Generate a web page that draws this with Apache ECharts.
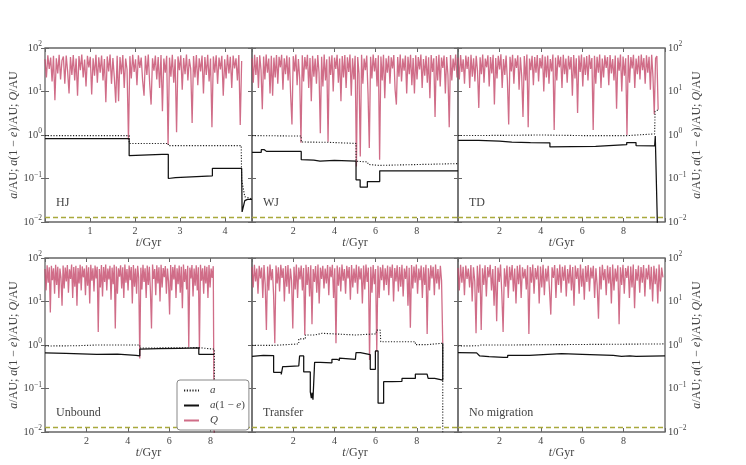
<!DOCTYPE html>
<html>
<head>
<meta charset="utf-8">
<script src="https://cdn.jsdelivr.net/npm/echarts@6/dist/echarts.min.js"></script>
<style>
html, body { margin: 0; padding: 0; background: #fff; }
#chart { width: 746px; height: 465px; }
</style>
</head>
<body>
<div id="chart"></div>
<script>
// panel order: top row HJ, WJ, TD; bottom row Unbound, Transfer, No migration
const panelNames = ['HJ', 'WJ', 'TD', 'Unbound', 'Transfer', 'No migration'];
const xMaxes = [4.6, 10, 10, 10, 10, 10];
const xIntervals = [1, 2, 2, 2, 2, 2];
const rocheLimit = 0.0127;

// Q (pericentre of the outer body) sampled evenly from t=0 to qEnd
const qEnd = [4.37, 9.95, 9.67, 8.18, 9.26, 9.9];
const qHJ = [
  55,21,68,33,60,17,66,6.3,58,26,70,19,52,64,15,67,29,9,62,24,
  69,18,57,8,65,31,71,21,54,13,66,36,63,8.5,58,23,70,16,61,27,
  67,18,56,5.7,64,29,71,15,59,21,5.5,66,6,62,25,69,12,57,32,0.78,
  65,20,70,28,55,14,68,35,60,18,8,66,24,71,15,5,58,30,67,19,
  62,12,69,3.5,57,27,66,0.6,60,22,70,16,55,1.15,64,31,68,11,59,25,
  71,18,56,33,1.9,65,21,69,14,58,29,67,9,62,24,70,17,57,1.5,64,
  27,68,15,60,32,66,8,55,20,70,26,63,12,67,34,58,18,69,1.7,50
];
const qWJ = [
  58,16,70,24,62,12,68,31,3.9,64,19,71,27,57,9,66,8,60,21,69,
  15,63,36,70,11,58,25,67,18,61,8,1.74,65,29,71,14,56,20,0.66,68,
  17,62,32,70,12,59,6,66,22,57,15,69,27,1.1,63,13,71,18,55,0.7,
  64,24,68,10,60,33,70,16,57,6,65,21,69,12,61,28,71,8,58,19,
  66,0.19,62,26,0.32,70,15,57,31,67,9,0.5,63,20,71,29,59,13,68,0.27,
  64,18,70,7,58,27,66,15,61,34,69,11,5,62,22,71,17,57,30,67,
  9,63,25,70,14,59,9,68,19,62,32,71,12,56,23,66,16,61,7,69,
  28,58,2.6,65,18,70,13,60,35,67,9,62,24,1.5,69,18,57,30,71,21
];
const qTD = [
  60,19,69,28,55,15,67,33,63,12,70,22,58,17,66,30,4.2,61,25,71,
  16,57,36,68,13,62,26,70,5,59,20,66,32,72,12,56,24,67,18,1.74,
  63,29,70,15,58,35,68,11,61,23,2.6,65,18,71,1.5,57,31,66,14,62,
  27,69,17,59,34,70,10,64,21,67,15,56,29,71,1.3,60,18,68,36,63,
  12,70,25,57,16,66,32,62,8,69,20,58,3.2,67,28,71,13,61,24,65,
  18,70,33,59,1.3,66,15,63,27,71,12,57,21,68,35,62,14,69,26,56,
  18,67,4,60,30,71,10,64,23,58,1.0,69,16,62,34,70,12,57,25,66,
  19,71,31,59,15,68,27,63,11,70,22,3,58,65,3.8
];
const qUB = [
  56,18,68,27,61,5.6,66,31,58,15,70,24,63,12,57,35,8,67,20,60,
  29,69,16,55,33,71,12,62,22,66,8,59,26,70,18,64,36,57,14,68,
  23,61,9,70,30,58,17,67,34,63,2.0,56,21,69,13,62,28,71,18,57,
  32,66,11,60,25,70,2.4,64,15,58,37,68,20,61,12,71,27,56,18,67,
  31,62,9,69,22,57,15,66,35,0.49,60,19,70,28,58,12,67,24,63,17,
  2.4,71,33,56,14,68,26,61,10,70,21,59,36,65,15,57,29,5,69,18,
  62,32,70,12,58,25,67,16,63,7,71,28,56,19,66,0.9,60,34,69,13,
  57,23,68,18,61,0.8,70,30,58,15,66,26,63,12,69,21,57,35,65,0.001
];
const qTR = [
  62,21,70,29,57,15,66,34,60,12,69,25,2.2,64,18,71,31,56,14,1.1,
  67,26,61,17,70,35,58,10,65,22,69,15,57,30,2.4,63,19,71,12,60,
  32,67,18,59,1.7,70,24,62,13,68,3,56,28,65,16,71,9,60,33,66,
  20,57,26,69,14,63,36,70,12,58,1.1,67,23,61,17,71,30,56,15,66,
  34,62,11,69,21,57,27,70,15,64,32,58,9,67,19,71,28,60,0.45,63,
  16,69,25,56,0.7,66,12,61,31,70,18,58,24,67,14,63,35,71,10,59,
  29,68,17,62,22,70,13,57,33,66,8,60,2.5,69,20,64,27,71,15,57,
  31,67,12,61,24,70,1.8,58,18,68,34,63,14,71,26,56,19,66,30,1.1
];
const qNM = [
  59,18,70,27,63,14,67,33,57,21,69,10,61,29,1.86,66,16,71,2.2,58,
  24,68,13,62,36,70,18,56,8,65,3.5,60,28,71,15,2,58,22,67,12,
  63,31,69,17,57,9,66,25,70,12,61,34,56,19,68,1.8,62,27,71,15,
  59,32,67,9,64,21,70,14,57,29,66,18,5,61,35,69,12,58,24,71,
  16,63,30,68,13,56,26,70,18,62,8,67,33,59,15,71,22,57,11,65,
  28,69,17,60,34,66,12,58,23,4,63,19,70,31,56,14,67,26,62,9,
  71,18,57,29,68,3,61,24,70,15,59,35,66,12,64,21,71,7,56,30,
  67,16,62,27,69,13,58,32,70,19,63,10,66,25,57,9,71,17,60,36
];

// semi-major axis a, [t/Gyr, a/AU]
const aHJ = [[0,0.97],[1.87,0.97],[1.87,0.64],[2.74,0.64],[2.74,0.57],[4.36,0.57],[4.37,0.093],[4.44,0.038],[4.6,0.034]];
const aWJ = [[0,0.97],[1.9,0.95],[2.39,0.95],[2.39,0.69],[3.67,0.68],[3.67,0.64],[5.05,0.64],[5.05,0.25],[5.6,0.24],[5.65,0.21],[6.15,0.2],[6.2,0.22],[10,0.22]];
const aTD = [[0,0.97],[2,0.98],[4,1.0],[6,0.97],[8.2,0.97],[8.2,1.06],[9.5,1.06],[9.52,3.5],[9.67,3.8]];
const aUB = [[0,0.95],[1.5,0.96],[2.5,1.0],[4.58,1.0],[4.58,0.85],[7.43,0.87],[7.43,0.8],[8.18,0.8],[8.18,0.001]];
const aTR = [[0,0.98],[1.05,0.98],[1.05,1.06],[2.27,1.06],[2.27,1.38],[2.59,1.38],[2.59,1.7],[3.07,1.7],[3.07,1.86],[3.4,1.86],[3.4,1.7],[5.02,1.7],[5.02,1.8],[6.02,1.8],[6.05,2.2],[6.22,2.2],[6.25,1.19],[7.93,1.19],[7.93,1.02],[8.5,1.02],[8.5,1.1],[9.26,1.1],[9.26,0.001]];
const aNM = [[0,0.95],[1.0,0.96],[1.1,1.0],[2.35,1.0],[2.4,1.07],[10,1.06]];

// pericentre a(1-e), [t/Gyr, AU]
const eHJ = [[0,0.83],[1.87,0.83],[1.87,0.334],[2.6,0.36],[2.74,0.36],[2.74,0.1],[2.9,0.105],[3.72,0.115],[3.72,0.172],[4.37,0.172],[4.38,0.017],[4.44,0.031],[4.5,0.033],[4.6,0.033]];
const eWJ = [[0,0.4],[0.45,0.4],[0.45,0.46],[0.6,0.46],[0.6,0.42],[0.7,0.42],[0.7,0.45],[0.75,0.45],[0.75,0.42],[2.39,0.42],[2.39,0.27],[3.0,0.265],[3.3,0.25],[4.0,0.26],[5.05,0.25],[5.05,0.093],[5.25,0.093],[5.25,0.063],[5.6,0.063],[5.6,0.085],[6.2,0.085],[6.2,0.15],[10,0.15]];
const eTD = [[0,0.75],[1,0.75],[2,0.72],[2.6,0.69],[3.5,0.67],[4.44,0.66],[4.44,0.53],[5.5,0.54],[6.65,0.55],[6.65,0.6],[8.15,0.6],[8.15,0.67],[8.6,0.67],[8.6,0.57],[9.5,0.56],[9.53,0.95],[9.62,0.95],[9.68,0.001]];
const eUB = [[0,0.66],[1,0.64],[2.5,0.61],[3.5,0.62],[4.4,0.58],[4.58,0.56],[4.58,0.8],[5.5,0.82],[6.5,0.84],[7.43,0.86],[7.43,0.61],[8.18,0.61]];
const eTR = [[0,0.55],[0.55,0.58],[1.05,0.57],[1.05,0.236],[1.42,0.236],[1.42,0.21],[1.49,0.21],[1.49,0.32],[1.62,0.32],[1.62,0.33],[2.27,0.33],[2.31,0.56],[2.51,0.56],[2.51,0.24],[2.83,0.24],[2.83,0.084],[2.88,0.06],[2.92,0.08],[2.96,0.055],[3.04,0.06],[3.04,0.4],[3.32,0.4],[3.32,0.39],[3.88,0.39],[3.88,0.47],[4.13,0.47],[4.13,0.44],[4.24,0.44],[4.24,0.5],[4.3,0.47],[5.02,0.47],[5.05,0.67],[5.26,0.67],[5.26,0.63],[5.74,0.6],[5.74,0.276],[5.99,0.276],[5.99,0.73],[6.12,0.73],[6.12,0.046],[6.39,0.046],[6.39,0.143],[6.8,0.143],[6.8,0.146],[7.28,0.146],[7.28,0.17],[7.93,0.17],[7.93,0.215],[8.5,0.215],[8.5,0.2],[8.55,0.17],[8.87,0.17],[8.87,0.155],[9.26,0.155],[9.26,1.1]];
const eNM = [[0,0.67],[0.9,0.66],[1.05,0.56],[1.5,0.54],[2.2,0.52],[2.4,0.52],[2.4,0.58],[3.45,0.58],[3.5,0.64],[5,0.63],[6,0.61],[7.5,0.58],[7.9,0.55],[8.3,0.56],[8.6,0.55],[10,0.56]];

const qData = [qHJ, qWJ, qTD, qUB, qTR, qNM];
const aData = [aHJ, aWJ, aTD, aUB, aTR, aNM];
const eData = [eHJ, eWJ, eTD, eUB, eTR, eNM];

const legendNames = ['a', 'a(1\u2212e)', 'Q'];
const legendLabels = {'a': '{i|a}', 'a(1\u2212e)': '{i|a}(1 \u2212 {i|e})', 'Q': '{i|Q}'};

// layout
const colLeft = [45, 252, 458], colWidth = [207, 206, 207];
const rowTop = [48, 258], rowHeight = 174;
const font = 'Liberation Serif';
const axisGray = '#666';
const textGray = '#444';
const pink = '#c4486a';

const italic = {fontStyle: 'italic', fontFamily: font, fontSize: 12, color: textGray};

function supLabel(v) {
    const p = Math.round(Math.log10(v));
    return '{b|10}{s|' + (p < 0 ? '\u2212' + (-p) : p) + '}';
}

function qPoints(vals, tEnd) {
    const dt = tEnd / (vals.length - 1);
    return vals.map((v, i) => [i * dt, v]);
}

const grid = [], xAxis = [], yAxis = [], series = [], graphic = [];

panelNames.forEach((name, k) => {
    const col = k % 3, row = Math.floor(k / 3);
    grid.push({
        left: colLeft[col], top: rowTop[row], width: colWidth[col], height: rowHeight,
        show: true, borderColor: axisGray, borderWidth: 1.3, backgroundColor: 'transparent'
    });

    const tick = {inside: true, length: 4, lineStyle: {color: axisGray, width: 1}};
    const xBase = {
        type: 'value', gridIndex: k, min: 0, max: xMaxes[k], interval: xIntervals[k],
        splitLine: {show: false}, axisLine: {show: false}, axisTick: tick
    };
    xAxis.push(Object.assign({}, xBase, {
        position: 'bottom',
        name: '{i|t}/Gyr', nameLocation: 'middle', nameGap: 13,
        nameTextStyle: {fontFamily: font, fontSize: 12, color: textGray, rich: {i: italic}},
        axisLabel: {
            margin: 4, fontFamily: font, fontSize: 10, color: textGray,
            formatter: v => (v > 0 && v < xMaxes[k] - 1e-6) ? String(v) : ''
        }
    }));
    xAxis.push(Object.assign({}, xBase, {position: 'top', axisLabel: {show: false}}));

    const yBase = {
        type: 'log', logBase: 10, gridIndex: k, min: 0.01, max: 100,
        splitLine: {show: false}, axisLine: {show: false}, axisTick: tick
    };
    const showLabels = col !== 1;
    yAxis.push(Object.assign({}, yBase, {
        position: col === 2 ? 'right' : 'left',
        name: showLabels ? '{i|a}/AU; {i|a}(1 \u2212 {i|e})/AU; {i|Q}/AU' : '',
        nameLocation: 'middle', nameRotate: 90, nameGap: col === 0 ? 20 : 15,
        nameTextStyle: {fontFamily: font, fontSize: 12, color: textGray, rich: {i: italic}},
        axisLabel: {
            show: showLabels, margin: 3, formatter: supLabel,
            rich: {
                b: {fontFamily: font, fontSize: 10.5, color: textGray},
                s: {fontFamily: font, fontSize: 7.5, color: textGray, padding: [0, 0, 7, 0]}
            }
        }
    }));
    yAxis.push(Object.assign({}, yBase, {position: col === 2 ? 'left' : 'right', axisLabel: {show: false}}));

    // dashed reference level across the whole panel
    series.push({
        type: 'line', name: 'limit', xAxisIndex: 2 * k, yAxisIndex: 2 * k,
        data: [[0, rocheLimit], [xMaxes[k], rocheLimit]], symbol: 'none', silent: true,
        lineStyle: {color: '#a9a93c', type: [5, 3], width: 1.3},
        z: 1
    });
    series.push({
        type: 'line', name: 'Q', xAxisIndex: 2 * k, yAxisIndex: 2 * k,
        data: qPoints(qData[k], qEnd[k]), symbol: 'none', showSymbol: false,
        lineStyle: {color: pink, width: 1.3, opacity: 0.8}, itemStyle: {color: pink},
        z: 2
    });
    series.push({
        type: 'line', name: 'a', xAxisIndex: 2 * k, yAxisIndex: 2 * k,
        data: aData[k], symbol: 'none', showSymbol: false,
        lineStyle: {color: '#222', width: 1.1, type: [1.2, 1.6]}, itemStyle: {color: '#222'},
        z: 3
    });
    series.push({
        type: 'line', name: 'a(1\u2212e)', xAxisIndex: 2 * k, yAxisIndex: 2 * k,
        data: eData[k], symbol: 'none', showSymbol: false,
        lineStyle: {color: '#111', width: 1.25}, itemStyle: {color: '#111'},
        z: 4
    });

    graphic.push({
        type: 'text', x: colLeft[col] + 11, y: rowTop[row] + rowHeight - 19,
        style: {text: name, font: '12px "' + font + '"', fill: textGray, verticalAlign: 'middle'}
    });
});

const chart = echarts.init(document.getElementById('chart'));
chart.setOption({
    animation: false,
    backgroundColor: '#fff',
    grid: grid,
    xAxis: xAxis,
    yAxis: yAxis,
    series: series,
    graphic: graphic,
    legend: {
        data: legendNames, orient: 'vertical', left: 177, top: 380,
        backgroundColor: '#fff', borderColor: '#888', borderWidth: 1, borderRadius: 3,
        padding: [5, 4, 4, 6], itemWidth: 15, itemHeight: 10, itemGap: 4,
        itemStyle: {opacity: 0, borderWidth: 0},
        formatter: n => legendLabels[n],
        textStyle: {fontFamily: font, fontSize: 11, color: textGray, padding: [0, 0, 0, 6], rich: {i: Object.assign({}, italic, {fontSize: 11})}}
    }
});
</script>
</body>
</html>
